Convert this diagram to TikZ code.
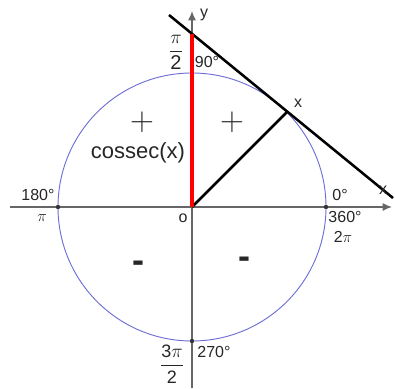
\documentclass[tikz,border=0pt]{standalone}
\usepackage{fontspec}
\setmainfont{Liberation Sans}
\usetikzlibrary{arrows.meta}
\definecolor{circ}{RGB}{110,110,215}
\newcommand{\ArrTip}{Latex[length=7,width=6]}
\tikzset{axis/.style={draw=black!60,line width=.9pt,-{\ArrTip}}}
\tikzset{lbl/.style={font=\fontsize{12}{14}\selectfont,inner sep=0pt,text=black!85}}
\tikzset{frac/.style={font=\fontsize{15}{17}\selectfont}}
\tikzset{plus/.style={font=\fontsize{31}{33}\selectfont,inner sep=0pt,text=black!85}}
\tikzset{minus/.style={font=\fontsize{27}{29}\selectfont\bfseries,inner sep=0pt,text=black!85}}

\begin{document}
\begin{tikzpicture}[x=.75pt,y=.75pt]
\useasboundingbox (-192,-181) rectangle (203,207);
\coordinate (O) at (0,0);\coordinate (xa) at (-182,0);\coordinate (xb) at (200,0);
\coordinate (ya) at (0,-181);\coordinate (yb) at (0,196);
\coordinate (ta) at (-23,192);\coordinate (tb) at (201,9);
\coordinate (X) at (45:134);
\coordinate (R) at (intersection of ta--tb and O--yb);
\draw[circ,line width=.7pt] (O) circle (134);
\draw[axis] (xa)--(xb);\draw[axis] (ya)--(yb);
\foreach \a/\n in {0/p0,90/p90,180/p180,270/p270}{\fill[black!80] (\a:134) coordinate (\n) circle (2.2);}
\draw[line width=1.9pt] (ta)--(tb);\draw[line width=1.9pt] (O)--(X);
\draw[red,line width=3pt] (O)--(R);
% labels
\begin{scope}[lbl]
\node (ly) at (12,192){y};\node (lx) at (191,17){x};\node (lX) at (106,104){x};
\node (l0) at (148,12){0°};\node (l360) at (153,-10){360°};\node (l2pi) at (151,-30){2$\pi$};
\node (l180) at (-154,12){180°};\node (lpi) at (-150,-11){$\pi$};
\node (lo) at (-9,-11){o};
\node[frac] (lhalf) at (-16,155){$\displaystyle\frac{\pi}{\mbox{2}}$};\node (l90) at (15,145){90°};
\node[font=\fontsize{13.5}{15}\selectfont] (lthree) at (-20,-157){$\displaystyle\frac{\mbox{3}\pi}{\mbox{2}}$};\node (l270) at (22,-145){270°};
\node[font=\fontsize{16.5}{18}\selectfont] (lcsc) at (-54,54){cossec(x)};
\end{scope}
\node[plus] (s1) at (-50,85){$+$};\node[plus] (s2) at (40,85){$+$};
\node[minus] (s3) at (-54,-60){-};\node[minus] (s4) at (52,-56){-};
\end{tikzpicture}
\end{document}
